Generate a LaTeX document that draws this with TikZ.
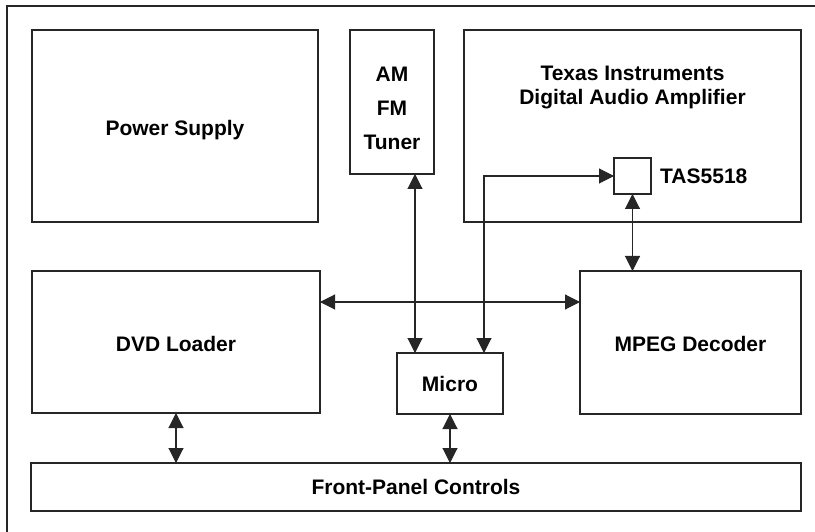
\documentclass[tikz,border=0pt]{standalone}
\usepackage{fontspec}
\setmainfont{Liberation Sans}
\usetikzlibrary{arrows.meta}
\tikzset{
  block/.style={draw=black!85,line width=1.1pt,inner sep=0pt,outer sep=0pt,align=center},
  txt/.style={font=\fontsize{21}{24}\selectfont\bfseries,align=center,inner sep=0pt},
  link/.style={draw=black!85,line width=1.1pt,{Triangle[length=15pt,width=15pt]}-{Triangle[length=15pt,width=15pt]}},
}
\begin{document}
\begin{tikzpicture}[x=1pt,y=-1pt]
	\useasboundingbox (0,0) rectangle (815,532);
	\draw[black!85,line width=1.1pt] (7,532)--(7,6)--(815,6);
	\node[block,minimum width=286pt,minimum height=192pt] (power) at (175,126) {};
	\node[txt] (powertxt) at (175,130) {Power Supply};
	\node[block,minimum width=84pt,minimum height=144pt] (tuner) at (392,102) {};
	\node[txt,font=\fontsize{21}{34}\selectfont\bfseries] (tunertxt) at (392,108) {AM\\FM\\Tuner};
	\node[block,minimum width=337pt,minimum height=192pt] (ti) at (632.5,126) {};
	\node[txt] (titxt) at (632.5,88) {Texas Instruments\\Digital Audio Amplifier};
	\node[block,minimum width=37pt,minimum height=36pt] (tas) at (632.5,176) {};
	\node[txt,anchor=west] (tastxt) at (660,176) {TAS5518};
	\node[block,minimum width=288pt,minimum height=142pt] (dvd) at (176,342) {};
	\node[txt] (dvdtxt) at (176,344) {DVD Loader};
	\node[block,minimum width=221pt,minimum height=143pt] (mpeg) at (690.5,342.5) {};
	\node[txt] (mpegtxt) at (690.5,344) {MPEG Decoder};
	\node[block,minimum width=106pt,minimum height=61pt] (micro) at (450,383.5) {};
	\node[txt] (microtxt) at (450,383.5) {Micro};
	\node[block,minimum width=770pt,minimum height=48pt] (front) at (416,487) {};
	\node[txt] (fronttxt) at (416,487) {Front-Panel Controls};
	\coordinate (bend) at (484,176);
	\draw[link] (dvd.east |- 0,302)--(mpeg.west |- 0,302);
	\draw[link] ([xshift=23pt]tuner.south)--([xshift=23pt]tuner.south |- micro.north);
	\draw[link] (bend |- micro.north)--(bend)--(tas.west);
	\draw[link] (tas.south)--(tas.south |- mpeg.north);
	\draw[link] (dvd.south)--(dvd.south |- front.north);
	\draw[link] (micro.south)--(micro.south |- front.north);
\end{tikzpicture}
\end{document}
